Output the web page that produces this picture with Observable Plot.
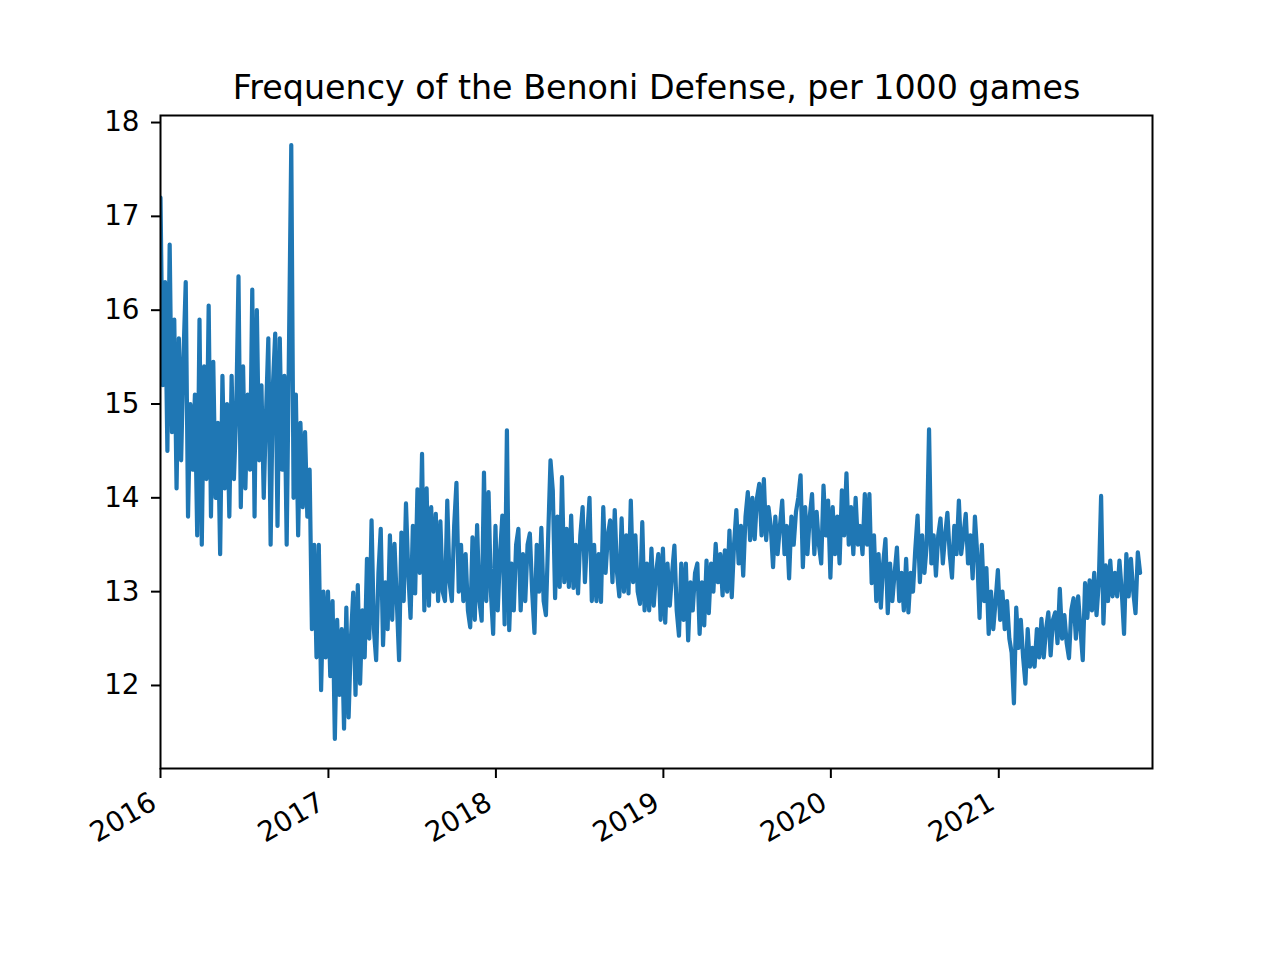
<!DOCTYPE html>
<html>
<head>
<meta charset="utf-8">
<script src="https://cdn.jsdelivr.net/npm/d3@7"></script>
<script src="https://cdn.jsdelivr.net/npm/@observablehq/plot@0.6"></script>
<style>
  html, body { margin: 0; padding: 0; background: #fff; }
  #chart { width: 1280px; height: 960px; }
</style>
</head>
<body>
<div id="chart"></div>
<script>
// Frequency of the Benoni Defense per 1000 games, sampled every 5 days from 2016-01-01
const title = "Frequency of the Benoni Defense, per 1000 games";
const startDate = "2016-01-01";
const stepDays = 5;

const values2016 = [17.2,15.2,16.3,14.5,16.7,14.7,15.9,14.1,15.7,14.4,15.5,16.3,13.8,15.0,14.3,15.1,13.6,15.9,13.5,15.4,14.2,16.05,13.8,15.45,14.0,14.8,13.4,15.3,14.1,15.0,13.8,15.3,14.2,14.9,16.36,13.9,15.4,14.1,15.1,14.3,16.22,13.8,16.0,14.4,15.2,14.0,14.9,15.7,13.5,15.2,15.75,13.7,15.7,14.3,15.3,13.5,15.6,17.76,14.0,15.1,13.6,14.8,13.9,14.7,13.8,14.3,12.6,13.5,12.3,13.5,11.95,13.0,12.3];
const values2017 = [13.0,12.1,12.9,11.43,12.7,11.9,12.6,11.54,12.83,11.66,12.5,12.99,11.9,13.07,12.02,12.8,12.3,13.35,12.5,13.76,12.6,12.27,13.2,13.67,12.43,13.1,12.6,13.6,12.7,13.51,12.9,12.27,13.63,12.9,13.94,13.2,12.72,13.7,12.98,14.09,13.2,14.47,12.8,14.1,12.85,13.9,13.0,13.83,12.9,13.75,13.0,12.9,13.97,13.1,12.9,13.7,14.16,13.0,13.5,12.9,13.4,12.8,12.62,13.58,12.7,13.71,12.9,12.69,14.27,12.9,14.06,13.0,12.55];
const values2018 = [13.7,12.8,13.4,13.81,12.65,14.72,12.59,13.3,12.8,13.5,13.67,12.8,13.4,12.9,13.5,13.62,13.0,12.56,13.5,13.0,13.68,12.9,12.75,13.6,14.4,14.08,12.93,13.8,13.05,14.22,13.1,13.67,13.05,13.81,13.04,13.5,12.98,13.6,13.9,13.1,13.6,14.0,12.9,13.5,12.9,13.4,12.89,13.9,13.2,13.6,13.76,13.1,13.87,13.2,12.95,13.78,13.0,13.6,12.98,13.97,13.1,13.6,13.0,12.87,13.74,12.8,13.3,12.8,13.46,12.85,13.2,13.4,12.7];
const values2019 = [13.46,12.67,13.3,12.85,13.2,13.49,12.8,12.53,13.3,12.7,13.3,12.48,13.1,12.8,13.2,13.3,12.55,13.1,12.64,13.33,12.77,13.3,13.0,13.51,13.1,13.4,12.96,13.44,13.0,13.65,12.94,13.5,13.87,13.3,13.7,13.17,13.8,14.06,13.55,14.0,13.56,14.0,14.15,13.6,14.2,13.55,13.9,13.7,13.26,13.8,13.4,13.7,13.97,13.4,13.7,13.14,13.8,13.5,13.85,14.0,14.24,13.26,13.9,13.4,13.8,14.04,13.4,13.85,13.5,13.3,14.13,13.6,13.97];
const values2020 = [13.15,13.9,13.4,13.8,13.3,14.08,13.6,14.26,13.5,13.9,13.4,14.0,13.5,13.7,13.4,14.04,13.5,14.04,13.09,13.6,12.9,13.4,12.83,13.3,13.56,12.77,13.3,12.9,13.2,13.47,12.9,13.2,12.8,13.35,12.78,13.2,13.0,13.45,13.81,13.1,13.6,13.2,13.5,14.73,13.3,13.6,13.17,13.6,13.78,13.3,13.6,13.84,13.4,13.15,13.7,13.4,13.97,13.4,13.6,13.83,13.3,13.6,13.14,13.8,13.4,12.72,13.5,12.9,13.25,12.55,13.0,12.6,12.9];
const values2021 = [13.23,12.7,13.0,12.6,12.9,12.5,12.35,11.81,12.83,12.4,12.7,12.3,12.02,12.6,12.2,12.4,12.2,12.6,12.3,12.71,12.3,12.6,12.78,12.32,12.7,12.78,12.45,13.03,12.5,12.75,12.45,12.29,12.8,12.93,12.5,12.95,12.6,12.27,13.09,12.72,13.12,12.8,13.2,12.75,13.1,14.02,12.66,13.28,12.9,13.33,12.95,13.2,12.95,13.33,13.0,12.55,13.4,12.95,13.35,13.0,12.77,13.42,13.2];

const yTicks = [12, 13, 14, 15, 16, 17, 18];
const yearLabels = ["2016", "2017", "2018", "2019", "2020", "2021"];
const xDomain = ["2016-01-01", "2021-12-02"];
const yDomain = [11.115, 18.075];

const allValues = [].concat(values2016, values2017, values2018, values2019, values2020, values2021);
const t0 = new Date(startDate + "T00:00:00Z");
const series = allValues.map((v, i) => ({date: d3.utcDay.offset(t0, i * stepDays), value: v}));
const yearDates = yearLabels.map(y => new Date(y + "-01-01T00:00:00Z"));
const yearTable = yearLabels.map((label, i) => ({date: yearDates[i], label}));

const chart = Plot.plot({
  width: 1280,
  height: 960,
  marginLeft: 160,
  marginRight: 128,
  marginTop: 115,
  marginBottom: 192,
  style: {fontFamily: "DejaVu Sans, sans-serif", background: "white", color: "black", overflow: "visible"},
  x: {type: "utc", domain: xDomain.map(d => new Date(d + "T00:00:00Z"))},
  y: {domain: yDomain},
  marks: [
    Plot.lineY(series, {x: "date", y: "value", stroke: "#1f77b4", strokeWidth: 4.2, strokeLinejoin: "round", clip: true}),
    Plot.frame({stroke: "black", strokeWidth: 2}),
    Plot.axisY({ticks: yTicks, tickSize: 9, tickPadding: 12, fontSize: 27.8, label: null, stroke: "black", strokeWidth: 2, tickFormat: d => String(d)}),
    Plot.axisX({ticks: yearDates, tickSize: 10, label: null, stroke: "black", strokeWidth: 2, tickFormat: () => ""}),
    Plot.text(yearTable, {x: "date", text: "label", frameAnchor: "bottom", rotate: -30, textAnchor: "end", lineAnchor: "top", dx: -12, dy: 22, fontSize: 27.8, fill: "black"}),
    Plot.text([title], {frameAnchor: "top", lineAnchor: "bottom", dy: -17, fontSize: 33.3, fill: "black"})
  ]
});
document.getElementById("chart").appendChild(chart);
</script>
</body>
</html>
